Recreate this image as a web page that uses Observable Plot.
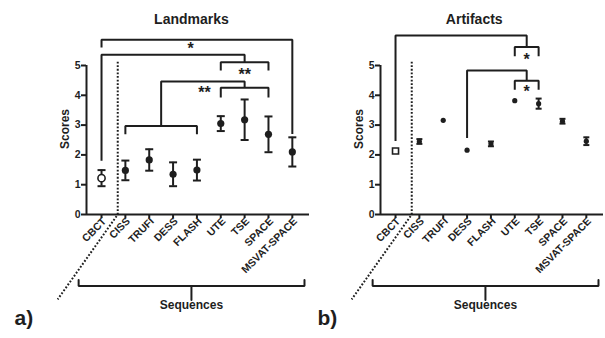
<!DOCTYPE html>
<html><head><meta charset="utf-8">
<script src="https://cdn.jsdelivr.net/npm/d3@7"></script>
<script src="https://cdn.jsdelivr.net/npm/@observablehq/plot@0.6"></script>
<style>
body{margin:0;background:#fff;}
#wrap{position:relative;width:605px;height:338px;overflow:hidden;background:#fff;}
#wrap svg{position:absolute;top:0;overflow:visible;}
</style></head><body><div id="wrap"></div>
<script>
// ---- data ----
const sequences = ["CBCT","CISS","TRUFI","DESS","FLASH","UTE","TSE","SPACE","MSVAT-SPACE"];
const referenceModality = "CBCT";
const yTicks = [0,1,2,3,4,5];

const landmarkMean = [1.22,1.48,1.83,1.35,1.49,3.05,3.18,2.69,2.10];
const landmarkSD   = [0.27,0.33,0.36,0.40,0.35,0.25,0.68,0.60,0.49];
const artifactMean = [2.13,2.45,3.16,2.16,2.37,3.82,3.72,3.13,2.46];
const artifactSD   = [0.00,0.08,0.00,0.00,0.08,0.00,0.17,0.08,0.13];

// significance brackets (category index, score units)
const landmarkGroups = [{lo:5,hi:7,y:5.11,leg:4.83},{lo:5,hi:7,y:4.25,leg:3.93},{lo:1,hi:4,y:2.97,leg:2.69}];
const landmarkLinks  = [{x1:0,x2:8,y:5.86,leg1:5.6,leg2:2.7},{x1:0,x2:6,y:5.36,leg1:1.8,leg2:5.11},{x1:2.5,x2:6,y:4.46,leg1:2.97,leg2:4.25}];
const landmarkStars  = [{x:3.73,y:5.74,t:"*"},{x:6,y:4.86,t:"**"},{x:4.32,y:4.26,t:"**"}];

const artifactGroups = [{lo:5,hi:6,y:5.62,leg:5.31},{lo:5,hi:6,y:4.49,leg:4.19}];
const artifactLinks  = [{x1:0,x2:5.5,y:6.01,leg1:2.47,leg2:5.62},{x1:3,x2:5.5,y:4.83,leg1:2.57,leg2:4.49}];
const artifactStars  = [{x:5.5,y:5.36,t:"*"},{x:5.5,y:4.28,t:"*"}];

// ---- drawing ----
const ink = "#1e1e1e";
const font = "'Liberation Sans', Arial, sans-serif";
const xDomain = [-0.63, 8.72];
const capSymbol = {draw(ctx, size){ const w = Math.sqrt(size/Math.PI); ctx.moveTo(-w,0); ctx.lineTo(w,0); }};

function bracketPoints(groups, links){
  const pts = [];
  groups.forEach((g,k)=>{ [[g.lo,g.leg],[g.lo,g.y],[g.hi,g.y],[g.hi,g.leg]].forEach(([x,y])=>pts.push({id:"g"+k,x,y})); });
  links.forEach((l,k)=>{ [[l.x1,l.leg1],[l.x1,l.y],[l.x2,l.y],[l.x2,l.leg2]].forEach(([x,y])=>pts.push({id:"l"+k,x,y})); });
  return pts;
}

function panel(o){
  const data = sequences.map((s,i)=>({s,i,m:o.mean[i],sd:o.sd[i],ref:s===referenceModality}));
  const err = data.filter(d=>d.sd>0);
  const filled = data.filter(d=>!d.ref);
  const ref = data.filter(d=>d.ref);
  const xt = d3.range(sequences.length);
  return Plot.plot({
    width: 310, height: 338,
    marginLeft: 86, marginRight: 1, marginTop: 65, marginBottom: 124,
    x: {domain: xDomain, axis: null},
    y: {domain: [0,5], axis: null},
    style: {background: "transparent", fontFamily: font, color: ink, overflow: "visible"},
    marks: [
      Plot.ruleY([0], {stroke: ink, strokeWidth: 2}),
      Plot.ruleX([xDomain[0]], {y1: 0, y2: 5, stroke: ink, strokeWidth: 2}),
      Plot.axisY({ticks: yTicks, tickFormat: "d", tickSize: 5, tickPadding: 1, fontSize: 10.5, fontWeight: "bold", label: null, strokeWidth: 2}),
      Plot.axisX({ticks: xt, tickFormat: () => "", tickSize: 4, label: null, strokeWidth: 2}),
      Plot.axisX({ticks: xt, tickFormat: i=>sequences[i], tickRotate: -45, tickSize: 0, tickPadding: 5, dx: 3, fontSize: 10.5, fontWeight: "bold", label: null}),
      Plot.text(["Scores"], {frameAnchor: "left", dx: -21, dy: 9, rotate: -90, fontSize: 12, fontWeight: "bold"}),
      Plot.text([o.title], {x: o.titleX, y: 6.55, fontSize: 14, fontWeight: "bold"}),
      // separator (dotted)
      Plot.line([[0.68,5.13],[0.68,0],[-1.84,-2.85]], {x: d=>d[0], y: d=>d[1], stroke: ink, strokeWidth: 2, strokeDasharray: "1.8 1.8", strokeLinecap: "butt"}),
      // "Sequences" brace
      Plot.line([[-0.96,-2.2],[-0.96,-2.4],[8.51,-2.4],[8.51,-2.2]], {x: d=>d[0], y: d=>d[1], stroke: ink, strokeWidth: 2, strokeLinejoin: "miter"}),
      Plot.line([[3.77,-2.4],[3.77,-2.87]], {x: d=>d[0], y: d=>d[1], stroke: ink, strokeWidth: 2}),
      Plot.text(["Sequences"], {x: 3.77, y: -3.05, fontSize: 12, fontWeight: "bold"}),
      Plot.text([o.label], {frameAnchor: "bottom-left", dx: o.labelDx, dy: 110, textAnchor: "start", fontSize: 21, fontWeight: "bold"}),
      // brackets
      Plot.line(bracketPoints(o.groups, o.links), {x: "x", y: "y", z: "id", stroke: ink, strokeWidth: 2, strokeLinejoin: "miter", strokeLinecap: "butt"}),
      Plot.text(o.stars, {x: "x", y: "y", text: "t", fontSize: 16, fontWeight: "bold", dy: 5}),
      // error bars
      Plot.ruleX(err, {x: "i", y1: d=>d.m-d.sd, y2: d=>d.m+d.sd, stroke: ink, strokeWidth: 2}),
      Plot.dot(err, {x: "i", y: d=>d.m+d.sd, symbol: capSymbol, r: o.cap, stroke: ink, strokeWidth: 2}),
      Plot.dot(err, {x: "i", y: d=>d.m-d.sd, symbol: capSymbol, r: o.cap, stroke: ink, strokeWidth: 2}),
      // markers
      Plot.dot(filled, {x: "i", y: "m", r: o.dotR, fill: ink}),
      Plot.dot(ref, {x: "i", y: "m", r: o.refR, symbol: o.refSymbol, fill: "white", stroke: ink, strokeWidth: 1.6})
    ]
  });
}

const wrap = document.getElementById("wrap");
const a = panel({title: "Landmarks", titleX: 3.77, mean: landmarkMean, sd: landmarkSD, groups: landmarkGroups, links: landmarkLinks, stars: landmarkStars, label: "a)", labelDx: -72, cap: 4, dotR: 3.6, refR: 3.6, refSymbol: "circle"});
const b = panel({title: "Artifacts", titleX: 3.3, mean: artifactMean, sd: artifactSD, groups: artifactGroups, links: artifactLinks, stars: artifactStars, label: "b)", labelDx: -63, cap: 3, dotR: 2.6, refR: 3.4, refSymbol: "square"});
a.style.left = "0px";
b.style.left = "294px";
wrap.append(a, b);
</script>
</body></html>
